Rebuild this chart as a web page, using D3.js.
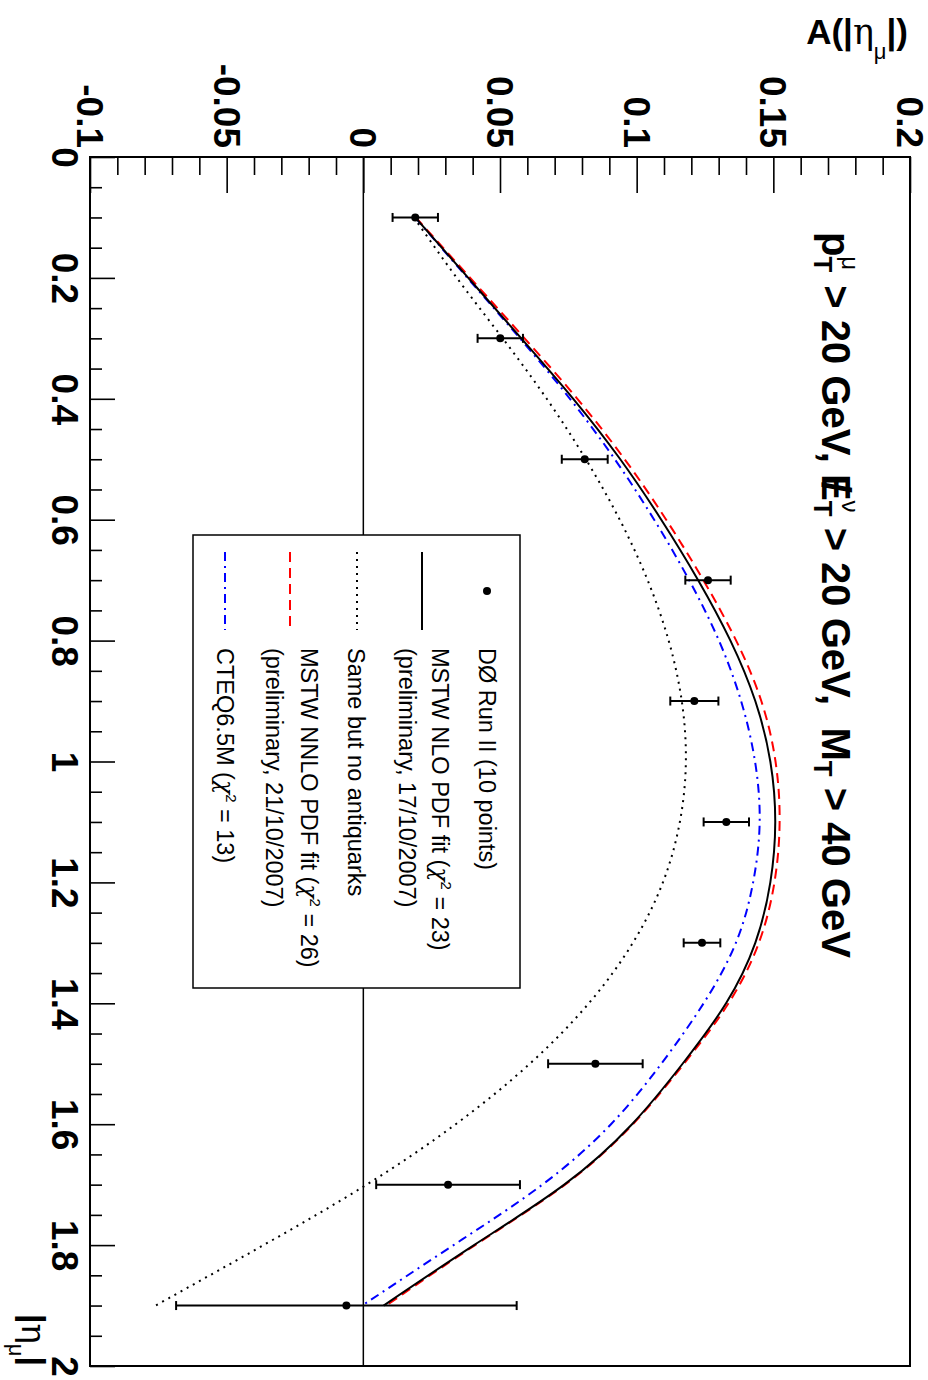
<!DOCTYPE html>
<html>
<head>
<meta charset="utf-8">
<script src="https://cdn.jsdelivr.net/npm/d3@7"></script>
<style>
  body { margin: 0; background: #fff; }
  svg { display: block; font-family: "Liberation Sans", Arial, Helvetica, sans-serif; }
</style>
</head>
<body>
<div id="chart"></div>
<script>
// axis ticks
var etaTicks = [0, 0.2, 0.4, 0.6, 0.8, 1, 1.2, 1.4, 1.6, 1.8, 2];
var asymTicks = [-0.1, -0.05, 0, 0.05, 0.1, 0.15, 0.2];

var etaTheory = [0.1, 0.2, 0.3, 0.4, 0.5, 0.6, 0.7, 0.8, 0.9, 1.0, 1.1, 1.2, 1.3, 1.4, 1.5, 1.6, 1.7, 1.8, 1.9];
var mstwNlo = [0.0190, 0.0384, 0.0578, 0.0768, 0.0940, 0.1090, 0.1225, 0.1343, 0.1434, 0.1489, 0.1507, 0.1489, 0.1434, 0.1327, 0.1168, 0.0983, 0.0735, 0.0405, 0.0074];
var mstwNnlo = [0.0192, 0.0391, 0.0590, 0.0783, 0.0956, 0.1108, 0.1244, 0.1364, 0.1456, 0.1508, 0.1523, 0.1504, 0.1447, 0.1336, 0.1173, 0.0986, 0.0738, 0.0409, 0.0084];
var noAntiquarks = [0.0185, 0.0342, 0.0510, 0.0671, 0.0814, 0.0938, 0.1040, 0.1117, 0.1165, 0.1180, 0.1158, 0.1096, 0.0986, 0.0825, 0.0609, 0.0338, 0.0012, -0.0365, -0.0760];
var cteq65 = [0.0190, 0.0381, 0.0573, 0.0756, 0.0920, 0.1064, 0.1192, 0.1301, 0.1382, 0.1433, 0.1450, 0.1426, 0.1363, 0.1245, 0.1090, 0.0906, 0.0655, 0.0330, -0.0004];

// D0 Run II data
var etaData = [0.1, 0.3, 0.5, 0.7, 0.9, 1.1, 1.3, 1.5, 1.7, 1.9];
var asymData = [0.0190, 0.0501, 0.0810, 0.1261, 0.1211, 0.1328, 0.1239, 0.0849, 0.0310, -0.0062];
var asymErr = [0.0083, 0.0083, 0.0084, 0.0083, 0.0088, 0.0083, 0.0067, 0.0173, 0.0263, 0.0623];

var W = 928, H = 1380;
var frame = { x0: 90, x1: 910, y0: 157, y1: 1366 };

var svg = d3.select("#chart").append("svg")
    .attr("width", W)
    .attr("height", H);

// plot is rotated: asymmetry runs left->right, |eta| runs top->bottom
var a = d3.scaleLinear().domain([-0.1, 0.2]).range([frame.x0, frame.x1]);
var e = d3.scaleLinear().domain([0, 2]).range([frame.y0, frame.y1]);

var fmt = function(d) { return String(+d.toFixed(2)); };

// zero line
svg.append("line")
    .attr("x1", a(0)).attr("x2", a(0))
    .attr("y1", frame.y0).attr("y2", frame.y1)
    .attr("stroke", "black").attr("stroke-width", 1.5);

// top axis (asymmetry), ticks pointing inward
var aMinor = d3.range(-0.1, 0.2001, 0.01).filter(function(v) { return Math.abs(Math.round(v * 100) % 5) !== 0; });
svg.append("g")
    .attr("transform", "translate(0," + frame.y0 + ")")
    .call(d3.axisTop(a).tickValues(aMinor).tickSize(-18).tickSizeOuter(0).tickFormat(""))
    .call(function(g) { g.select(".domain").remove(); })
    .selectAll("line").attr("stroke-width", 1.6);

var gTop = svg.append("g")
    .attr("transform", "translate(0," + frame.y0 + ")")
    .call(d3.axisTop(a).tickValues(asymTicks).tickSize(-36).tickSizeOuter(0).tickFormat(fmt))
    .attr("font-family", null).attr("font-size", null);
gTop.select(".domain").remove();
gTop.selectAll("line").attr("stroke-width", 1.6);
gTop.selectAll("text")
    .attr("transform", "rotate(90)")
    .attr("x", -9).attr("y", 13.5).attr("dy", 0)
    .attr("text-anchor", "end")
    .style("font-size", "37px").style("font-weight", "bold").attr("fill", "black");

// left axis (|eta|)
var eMinor = d3.range(0, 2.001, 0.05).filter(function(v) { return Math.round(v * 100) % 20 !== 0; });
svg.append("g")
    .attr("transform", "translate(" + frame.x0 + ",0)")
    .call(d3.axisLeft(e).tickValues(eMinor).tickSize(-12).tickSizeOuter(0).tickFormat(""))
    .call(function(g) { g.select(".domain").remove(); })
    .selectAll("line").attr("stroke-width", 1.6);

var gLeft = svg.append("g")
    .attr("transform", "translate(" + frame.x0 + ",0)")
    .call(d3.axisLeft(e).tickValues(etaTicks).tickSize(-25).tickSizeOuter(0).tickFormat(fmt))
    .attr("font-family", null).attr("font-size", null);
gLeft.select(".domain").remove();
gLeft.selectAll("line").attr("stroke-width", 1.6);
gLeft.selectAll("text")
    .attr("transform", "rotate(90)")
    .attr("x", 0).attr("y", 38).attr("dy", 0)
    .attr("text-anchor", "middle")
    .style("font-size", "37px").style("font-weight", "bold").attr("fill", "black");

// theory curves
var curve = function(vals) {
    return etaTheory.map(function(t, i) { return { eta: t, A: vals[i] }; });
};
var line = d3.line()
    .x(function(d) { return a(d.A); })
    .y(function(d) { return e(d.eta); })
    .curve(d3.curveNatural);

var styles = [
    { vals: noAntiquarks, color: "black", dash: "2,5" },
    { vals: cteq65, color: "#0000ff", dash: "9,5,2,5" },
    { vals: mstwNnlo, color: "#ff0000", dash: "10,6" },
    { vals: mstwNlo, color: "black", dash: null }
];
styles.forEach(function(s) {
    svg.append("path")
        .datum(curve(s.vals))
        .attr("d", line)
        .attr("fill", "none")
        .attr("stroke", s.color)
        .attr("stroke-width", 2)
        .attr("stroke-dasharray", s.dash);
});

// data points with horizontal error bars
var pts = etaData.map(function(t, i) { return { eta: t, A: asymData[i], err: asymErr[i] }; });
var gPts = svg.append("g");
gPts.selectAll("line.bar").data(pts).enter().append("line")
    .attr("x1", function(d) { return a(d.A - d.err); })
    .attr("x2", function(d) { return a(d.A + d.err); })
    .attr("y1", function(d) { return e(d.eta); })
    .attr("y2", function(d) { return e(d.eta); })
    .attr("stroke", "black").attr("stroke-width", 2);
gPts.selectAll("line.capl").data(pts).enter().append("line")
    .attr("x1", function(d) { return a(d.A - d.err); })
    .attr("x2", function(d) { return a(d.A - d.err); })
    .attr("y1", function(d) { return e(d.eta) - 4.5; })
    .attr("y2", function(d) { return e(d.eta) + 4.5; })
    .attr("stroke", "black").attr("stroke-width", 2);
gPts.selectAll("line.capr").data(pts).enter().append("line")
    .attr("x1", function(d) { return a(d.A + d.err); })
    .attr("x2", function(d) { return a(d.A + d.err); })
    .attr("y1", function(d) { return e(d.eta) - 4.5; })
    .attr("y2", function(d) { return e(d.eta) + 4.5; })
    .attr("stroke", "black").attr("stroke-width", 2);
gPts.selectAll("circle").data(pts).enter().append("circle")
    .attr("cx", function(d) { return a(d.A); })
    .attr("cy", function(d) { return e(d.eta); })
    .attr("r", 4)
    .attr("fill", "black");

// frame
svg.append("rect")
    .attr("x", frame.x0).attr("y", frame.y0)
    .attr("width", frame.x1 - frame.x0).attr("height", frame.y1 - frame.y0)
    .attr("fill", "none").attr("stroke", "black").attr("stroke-width", 2);

// legend
svg.append("rect")
    .attr("x", 193).attr("y", 535).attr("width", 327).attr("height", 453)
    .attr("fill", "white").attr("stroke", "black").attr("stroke-width", 1.5);

var legendLines = [
    { text: "DØ Run II (10 points)", base: 479 },
    { text: "MSTW NLO PDF fit (χ² = 23)", base: 432 },
    { text: "(preliminary, 17/10/2007)", base: 399 },
    { text: "Same but no antiquarks", base: 348 },
    { text: "MSTW NNLO PDF fit (χ² = 26)", base: 301 },
    { text: "(preliminary, 21/10/2007)", base: 266 },
    { text: "CTEQ6.5M (χ² = 13)", base: 217 }
];
legendLines.forEach(function(l) {
    var t = svg.append("text")
        .attr("transform", "translate(" + l.base + ",648) rotate(90)")
        .style("font-size", "23.5px")
        .attr("fill", "black");
    var parts = l.text.split("χ²");
    t.append("tspan").text(parts[0]);
    if (parts.length > 1) {
        t.append("tspan").style("font-style", "italic").style("font-family", "'DejaVu Serif', serif").text("χ");
        t.append("tspan").style("font-size", "15px").attr("dy", -9).text("2");
        t.append("tspan").attr("dy", 9).text(parts[1]);
    }
});

svg.append("circle").attr("cx", 487).attr("cy", 591).attr("r", 4).attr("fill", "black");
var legendMarks = [
    { x: 422, color: "black", dash: null },
    { x: 357, color: "black", dash: "2,5" },
    { x: 290, color: "#ff0000", dash: "10,6" },
    { x: 225, color: "#0000ff", dash: "9,5,2,5" }
];
legendMarks.forEach(function(m) {
    svg.append("line")
        .attr("x1", m.x).attr("x2", m.x)
        .attr("y1", 552).attr("y2", 630)
        .attr("stroke", m.color).attr("stroke-width", 2)
        .attr("stroke-dasharray", m.dash);
});

// cuts annotation
var annSize = 40;
var wE = 0.667 * annSize, wSlash = 0.278 * annSize;
var ann = svg.append("text")
    .attr("transform", "translate(822,232) rotate(90)")
    .style("font-size", annSize + "px").style("font-weight", "bold")
    .style("white-space", "pre")
    .attr("fill", "black");
// stacked subscript / superscript; returns nothing, next tspan must restore baseline (dy 20)
function subSup(sub, sup, dx0) {
    ann.append("tspan").style("font-size", "26px").attr("dx", dx0 || 0).attr("dy", 8).text(sub);
    ann.append("tspan").style("font-size", "24px").style("font-weight", "normal")
        .attr("dx", -16).attr("dy", -28).text(sup);
}
ann.append("tspan").text("p");
subSup("T", "μ");
ann.append("tspan").attr("dx", 4).attr("dy", 20).text(" > 20 GeV, E");
// slash through the E (missing transverse energy)
ann.append("tspan").attr("dx", -0.5 * wE - 0.5 * wSlash).text("/");
subSup("T", "ν", 0.5 * wE - 0.5 * wSlash);
ann.append("tspan").attr("dx", 4).attr("dy", 20).text(" > 20 GeV,  M");
ann.append("tspan").style("font-size", "26px").attr("dy", 8).text("T");
ann.append("tspan").attr("dy", -8).text(" > 40 GeV");

// axis titles
var yTitle = svg.append("text")
    .attr("x", 908).attr("y", 44)
    .attr("text-anchor", "end")
    .style("font-size", "35px").style("font-weight", "bold")
    .attr("fill", "black");
yTitle.append("tspan").text("A(|");
yTitle.append("tspan").style("font-weight", "normal").style("font-family", "'DejaVu Serif', serif").text("η");
yTitle.append("tspan").style("font-size", "22px").style("font-weight", "normal").attr("dy", 15).text("μ");
yTitle.append("tspan").attr("dy", -15).text("|)");

var xTitle = svg.append("text")
    .attr("transform", "translate(22," + frame.y1 + ") rotate(90)")
    .attr("text-anchor", "end")
    .style("font-size", "34px").style("font-weight", "bold")
    .attr("fill", "black");
xTitle.append("tspan").text("|");
xTitle.append("tspan").style("font-weight", "normal").style("font-family", "'DejaVu Serif', serif").text("η");
xTitle.append("tspan").style("font-size", "22px").style("font-weight", "normal").attr("dy", 13).text("μ");
xTitle.append("tspan").attr("dy", -13).text("|");
</script>
</body>
</html>
